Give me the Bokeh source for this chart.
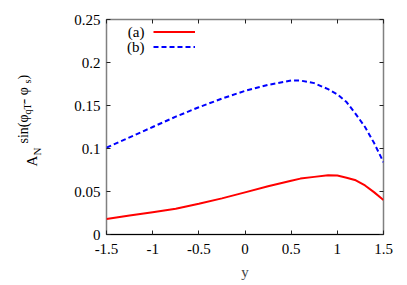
from bokeh.plotting import figure
from bokeh.models import (Range1d, FixedTicker, LinearAxis, Label, Legend, LegendItem, Title)
from bokeh.embed import file_html
from bokeh.resources import INLINE

# ---- data ----
y_vals = [-1.5, -1.25, -1.0, -0.75, -0.5, -0.25, 0.0, 0.25, 0.5, 0.6, 0.75, 0.9, 1.0, 1.1, 1.2, 1.3, 1.4, 1.5]
series_a = [0.018, 0.022, 0.026, 0.030, 0.0357, 0.042, 0.049, 0.056, 0.0625, 0.065, 0.067, 0.069, 0.0685, 0.066, 0.063, 0.057, 0.049, 0.040]
series_b = [0.101, 0.113, 0.125, 0.137, 0.148, 0.158, 0.167, 0.174, 0.179, 0.179, 0.176, 0.169, 0.163, 0.154, 0.140, 0.125, 0.106, 0.084]

x_ticks = [-1.5, -1.0, -0.5, 0.0, 0.5, 1.0, 1.5]
x_tick_labels = ["-1.5", "-1", "-0.5", "0", "0.5", "1", "1.5"]
y_ticks = [0.0, 0.05, 0.1, 0.15, 0.2, 0.25]
y_tick_labels = ["0", "0.05", "0.1", "0.15", "0.2", "0.25"]
legend_labels = ["(a)", "(b)"]

FONT = "Liberation Serif"

p = figure(width=399, height=285, output_backend="svg", toolbar_location=None,
           x_range=Range1d(-1.5, 1.5), y_range=Range1d(0, 0.25),
           min_border_left=106, min_border_right=16, min_border_top=19, min_border_bottom=51)
p.grid.visible = False
p.outline_line_color = "#808080"
p.outline_line_width = 1.5
p.background_fill_color = "white"
p.border_fill_color = "white"

ra = p.line(y_vals, series_a, line_color="#ff0000", line_width=2)
rb = p.line(y_vals, series_b, line_color="#0000ff", line_width=2, line_dash="5 3")

def style_axis(ax, ticks, labels, show_labels=True):
    ax.ticker = FixedTicker(ticks=ticks)
    ax.minor_tick_line_color = None
    ax.major_tick_in = 4
    ax.major_tick_out = 0
    ax.major_tick_line_color = "#222222"
    ax.major_label_text_font = FONT
    if show_labels:
        ax.major_label_overrides = {t: l for t, l in zip(ticks, labels)}
        ax.major_label_text_font_size = "15px"
        ax.major_label_text_color = "black"
    else:
        ax.major_label_overrides = {t: "" for t in ticks}
        ax.major_label_text_font_size = "1px"
        ax.major_label_text_color = None
        ax.major_label_standoff = 0

xa = p.xaxis[0]
style_axis(xa, x_ticks, x_tick_labels)
xa.axis_line_color = "black"
xa.major_label_standoff = 9
xa.axis_label = "y"
xa.axis_label_text_font = FONT
xa.axis_label_text_font_size = "15px"
xa.axis_label_text_font_style = "normal"
xa.axis_label_standoff = 7

ya = p.yaxis[0]
style_axis(ya, y_ticks, y_tick_labels)
ya.axis_line_color = None
ya.major_label_standoff = 6

top = LinearAxis()
style_axis(top, x_ticks, x_tick_labels, show_labels=False)
top.axis_line_color = None
p.add_layout(top, "above")
right = LinearAxis()
style_axis(right, y_ticks, y_tick_labels, show_labels=False)
right.axis_line_color = None
p.add_layout(right, "right")

# ---- legend: line samples via Legend, text labels to the left ----
legend = Legend(items=[LegendItem(label=" ", renderers=[ra]), LegendItem(label=" ", renderers=[rb])],
                location=(47, 180), orientation="vertical", padding=0, margin=0, spacing=0,
                glyph_width=42, glyph_height=15, label_height=15, label_width=0, label_standoff=0,
                label_text_font_size="6px", border_line_alpha=0, background_fill_alpha=0)
p.add_layout(legend, "center")
for i, lab in enumerate(legend_labels):
    p.add_layout(Label(x=38, y=203 - 15 * i, x_units="screen", y_units="screen", text=lab,
                       text_font=FONT, text_font_size="15px", text_align="right",
                       text_baseline="middle", text_color="black"))

# ---- y-axis label A_N^{sin(phi_{qT} - phi_s)} built from Titles in the left panel ----
EM_H = 1.107          # font height / font size (Liberation Serif)
FRAME_BOTTOM = 234    # page y of the frame bottom
AXIS_W = 32.25        # estimated width of the y axis slot

def text_title(txt, size, start_y):
    h = EM_H * size
    p.add_layout(Title(text=txt, text_font=FONT, text_font_size="%dpx" % size,
                       text_font_style="normal", text_color="black", align="left",
                       vertical_align="bottom", offset=FRAME_BOTTOM - start_y,
                       standoff=-(2 + h)), "left")

def spacer(width):
    p.add_layout(Title(text=" ", text_font=FONT, text_font_size="1px", text_font_style="normal",
                       align="left", vertical_align="bottom", standoff=width - 2 - EM_H), "left")

r_right = 106 - AXIS_W
# (text, size, baseline page-x, start page-y)
pieces = [
    ("N", 11, 42, 155),
    ("A", 15, 38, 166),
    ("qT", 10, 32, 114),
    ("s", 10, 32, 83),
    ("sin(\u03c6", 14, 29, 143),
    (" - \u03c6", 14, 29, 103),
    (")", 14, 29, 79),
]
for txt, size, bx, sy in pieces:
    bottom = bx + 0.216 * size
    need_r = bottom - (2 + EM_H * size) / 2
    if r_right - need_r > 0.5:
        spacer(r_right - need_r)
        r_right = need_r
    text_title(txt, size, sy)

open("out.html", "w").write(file_html(p, INLINE))
